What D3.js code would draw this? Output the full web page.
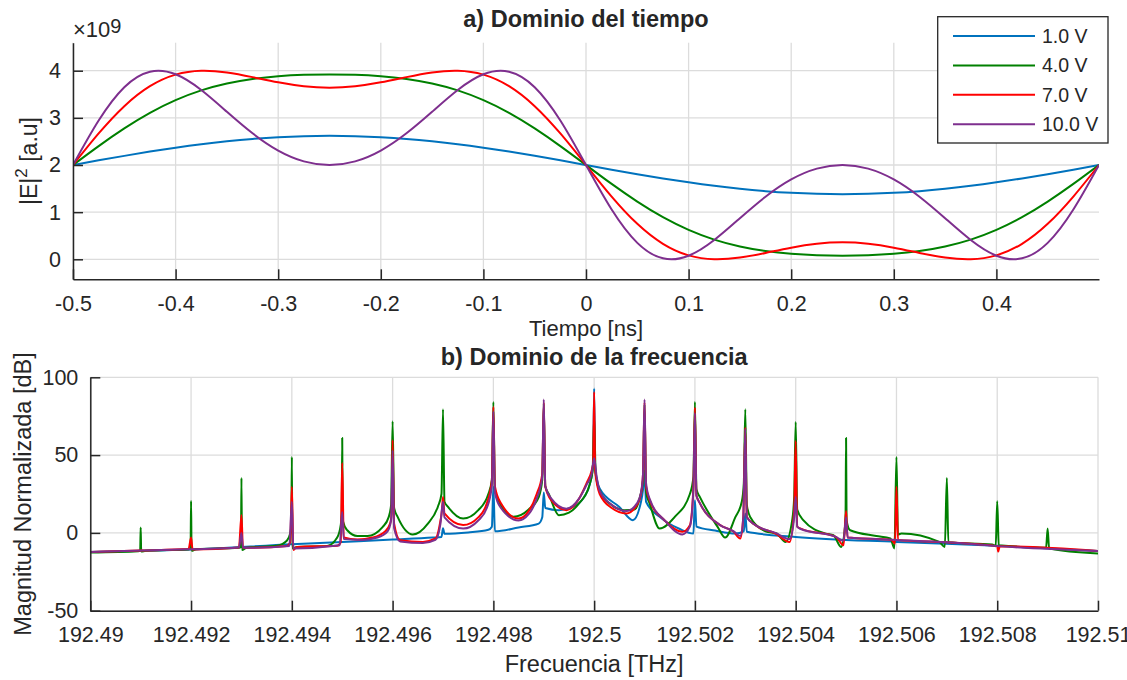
<!DOCTYPE html>
<html>
<head>
<meta charset="utf-8">
<script src="https://cdn.jsdelivr.net/npm/d3@7"></script>
<style>
body { margin: 0; background: #fff; }
text { font-family: "Liberation Sans", Arial, Helvetica, sans-serif; fill: #262626; }
</style>
</head>
<body>
<div id="chart-area"></div>
<script>
/*
*    dominio tiempo / frecuencia
*/

// ---- datos: a) dominio del tiempo (|E|^2 en unidades de 1e9) ----
var tiempoNs = [-0.5,-0.475,-0.45,-0.425,-0.4,-0.375,-0.35,-0.325,-0.3,-0.275,-0.25,-0.225,-0.2,-0.175,-0.15,-0.125,-0.1,-0.075,-0.05,-0.025,
    0,0.025,0.05,0.075,0.1,0.125,0.15,0.175,0.2,0.225,0.25,0.275,0.3,0.325,0.35,0.375,0.4,0.425,0.45,0.475,0.5];

var e1V = [2.000,2.099,2.194,2.285,2.368,2.442,2.504,2.554,2.590,2.612,2.620,2.612,2.590,2.554,2.504,2.442,2.368,2.285,2.194,2.099,
    2.000,1.901,1.806,1.715,1.632,1.558,1.496,1.446,1.410,1.388,1.380,1.388,1.410,1.446,1.496,1.558,1.632,1.715,1.806,1.901,2.000];
var e4V = [2.000,2.401,2.776,3.106,3.375,3.582,3.728,3.825,3.883,3.913,3.922,3.913,3.883,3.825,3.728,3.582,3.375,3.106,2.776,2.401,
    2.000,1.599,1.224,0.894,0.625,0.418,0.272,0.175,0.117,0.087,0.078,0.087,0.117,0.175,0.272,0.418,0.625,0.894,1.224,1.599,2.000];
var e7V = [2.000,2.669,3.248,3.672,3.917,3.999,3.963,3.864,3.753,3.670,3.640,3.670,3.753,3.864,3.963,3.999,3.917,3.672,3.248,2.669,
    2.000,1.331,0.752,0.328,0.083,0.001,0.037,0.136,0.247,0.330,0.360,0.330,0.247,0.136,0.037,0.001,0.083,0.328,0.752,1.331,2.000];
var e10V = [2.000,2.944,3.651,3.979,3.924,3.591,3.129,2.672,2.306,2.077,2.000,2.077,2.306,2.672,3.129,3.591,3.924,3.979,3.651,2.944,
    2.000,1.056,0.349,0.021,0.076,0.409,0.871,1.328,1.694,1.923,2.000,1.923,1.694,1.328,0.871,0.409,0.076,0.021,0.349,1.056,2.000];

var tiempoTicks = [-0.5,-0.4,-0.3,-0.2,-0.1,0,0.1,0.2,0.3,0.4];
var magTicks = [0,1,2,3,4];

// ---- datos: b) dominio de la frecuencia [desplazamiento GHz desde 192.5 THz, dB] ----
var espec1V = [[-10,-12.2],[-8,-10.7],[-6,-7.3],[-5,-5.8],[-4,-4.3],[-3.2,-3],[-3.03,-2.6],[-3,3],[-2.97,-0.6],[-2.5,0.3],[-2.1,2],
    [-2.03,4],[-2,29.6],[-1.97,1],[-1.5,3.5],[-1.1,6],[-1.03,10],[-1,26],[-0.97,16],[-0.7,14.6],[-0.4,17],[-0.2,23],[-0.08,32],
    [-0.02,45],[0,92.8],[0.02,42],[0.11,28.5],[0.5,16.7],[0.77,8.2],[0.93,20],[0.97,28],[1,40],[1.03,20],[1.3,10.3],[1.7,2.5],
    [1.97,-0.4],[2,21],[2.03,4],[2.4,1.5],[2.8,-0.4],[2.97,1],[3,12.5],[3.03,0.7],[4,-2.6],[6,-5.8],[8,-8.3],[10,-11.6]];

var espec4V = [[-10,-12.6],[-9.05,-11.8],[-9.01,-11],[-9,3.5],[-8.99,-12],[-8.9,-11.5],[-8.05,-10.6],[-8.01,-10],[-8,20.6],
    [-7.99,-11.5],[-7.9,-10.5],[-7.05,-9.6],[-7.01,-9],[-7,35.3],[-6.99,-11],[-6.9,-9.5],[-6.3,-8.2],[-6.1,-5],[-6.03,0],[-6.01,5],
    [-6,48.8],[-5.99,-10],[-5.9,-9],[-5.3,-8.4],[-5.1,-3],[-5.03,5],[-5.01,12.5],[-5,61],[-4.99,8],[-4.9,1.7],[-4.7,-2],[-4.5,-2],
    [-4.2,3.7],[-4.08,10],[-4.03,18],[-4,71.8],[-3.97,16],[-3.9,10.3],[-3.6,-1],[-3.3,6],[-3.1,17],[-3.03,25],[-3,79.5],[-2.97,20],
    [-2.9,16.7],[-2.6,9.2],[-2.3,14.6],[-2.1,25],[-2.03,34],[-2,84.2],[-1.97,28],[-1.9,21],[-1.6,10.3],[-1.3,15],[-1.1,23],
    [-1.03,34],[-1,83],[-0.97,30],[-0.9,25],[-0.7,11.4],[-0.5,13],[-0.3,19],[-0.1,30],[-0.03,40],[0,75],[0.03,38],[0.1,28],
    [0.3,19],[0.6,14.6],[0.8,15],[0.9,22],[0.97,34],[1,82.5],[1.03,26],[1.1,19],[1.3,2.8],[1.6,10.3],[1.9,25],[1.97,36],[2,84.2],
    [2.03,28],[2.1,23],[2.45,3.9],[2.6,-3],[2.8,10],[2.93,20],[2.97,31.7],[3,79.5],[3.03,18],[3.1,10],[3.4,1],[3.62,-0.4],
    [3.8,-5.8],[3.93,8],[3.97,23],[4,71.3],[4.03,15],[4.15,8.2],[4.6,-0.5],[4.75,-1.5],[4.9,-9],[4.97,1],[4.99,12.5],[5,61],
    [5.01,8],[5.08,1.7],[5.6,-2],[5.88,-3.6],[5.96,-10],[6,48.8],[6.03,-1],[6.1,-0.4],[6.85,-5.8],[6.96,-9],[7,35.3],[7.03,-6],
    [7.9,-7.5],[7.97,-8.5],[8,20.4],[8.03,-8],[8.97,-9.5],[9,2.8],[9.03,-10],[10,-13.2]];

var espec7V = [[-10,-12.2],[-9,-11.3],[-8.05,-10.4],[-8,-3],[-7.97,-10.6],[-7.05,-9.4],[-7,11.4],[-6.97,-9.6],[-6.1,-8.4],
    [-6.03,-6],[-6,29.6],[-5.97,-11],[-5.9,-9],[-5.1,-8.3],[-5.03,-6],[-5,45],[-4.97,-3],[-4.7,-4.3],[-4.4,-3],[-4.15,1],[-4.05,6],
    [-4.02,12.5],[-4,59.6],[-3.97,6],[-3.85,-4.7],[-3.4,-5.8],[-3.15,-3.6],[-3.05,8],[-3.02,14.6],[-3,23],[-2.97,12.5],[-2.6,5],
    [-2.3,10],[-2.13,19],[-2.03,34],[-2,81],[-1.97,30],[-1.85,19],[-1.5,9.2],[-1.3,14],[-1.14,25],[-1.03,38],[-1,84],[-0.97,30],
    [-0.85,21],[-0.55,14.6],[-0.3,22],[-0.15,32],[-0.05,40],[-0.02,44.6],[0,90.6],[0.02,40],[0.11,25],[0.35,16],[0.64,12.5],
    [0.85,18],[0.93,25],[0.97,38],[1,84],[1.03,30],[1.1,21],[1.4,8],[1.75,0.7],[1.9,5],[1.97,29.6],[2,80.6],[2.03,24],[2.1,19],
    [2.5,5],[2.77,0.7],[2.9,-3.6],[2.96,10.3],[3,67.7],[3.03,10.3],[3.2,5],[3.6,-0.4],[3.88,-5.8],[3.97,14.6],[4,59],[4.03,4],
    [4.1,2.8],[4.8,-2.6],[4.95,-8],[5,14],[5.03,-3],[5.9,-4.5],[5.97,-7],[6,29.6],[6.03,-4.5],[7,-6],[8,-8.5],[8.02,-12],
    [8.05,-8.6],[10,-11.6]];

var espec10V = [[-10,-12.2],[-9,-11.3],[-8,-10.5],[-7.05,-9.4],[-7,0],[-6.97,-9.6],[-6.05,-8.4],[-6,20],[-5.97,-10],[-5.05,-8],
    [-5,13.5],[-4.97,-4],[-4.6,-4.5],[-4.3,-3],[-4.1,1],[-4.03,8],[-4,53],[-3.97,3],[-3.85,-5.5],[-3.4,-6.5],[-3.15,-4.5],[-3.05,6],
    [-3,20],[-2.97,10],[-2.6,2.8],[-2.3,8],[-2.13,16],[-2.03,30],[-2,78],[-1.97,26],[-1.85,16],[-1.5,8],[-1.3,12],[-1.14,22],
    [-1.03,36],[-1,85.7],[-0.97,30],[-0.85,22],[-0.55,15.5],[-0.3,22],[-0.15,31],[-0.05,38],[0,48],[0.05,36],[0.11,27],[0.35,18],
    [0.64,14],[0.85,19],[0.93,26],[0.97,38],[1,85.7],[1.03,32],[1.1,22],[1.4,8],[1.75,-1],[1.9,4],[1.97,28],[2,77],[2.03,24],
    [2.1,19],[2.5,5],[2.77,1],[2.9,-2],[2.96,10],[3,67],[3.03,10],[3.2,5],[3.6,0],[3.88,-4],[3.97,10],[4,23],[4.03,4],[4.1,2.5],
    [4.8,-2.6],[4.95,-5],[5,10],[5.03,-3],[6,-4.5],[7,-6],[8,-8.5],[10,-11.6]];

var frecTicks = [192.49,192.492,192.494,192.496,192.498,192.5,192.502,192.504,192.506,192.508,192.51];
var frecLabels = ["192.49","192.492","192.494","192.496","192.498","192.5","192.502","192.504","192.506","192.508","192.51"];
var dbTicks = [-50,0,50,100];

var leyenda = ["1.0 V", "4.0 V", "7.0 V", "10.0 V"];
var colores = ["#0072BD", "#008000", "#FF0000", "#7E2F8E"];

// ---- lienzo ----
var width = 1127, height = 680;
var svg = d3.select("#chart-area").append("svg")
    .attr("width", width)
    .attr("height", height);
svg.append("rect").attr("width", width).attr("height", height).attr("fill", "#fff");

var axisColor = "#262626", gridColor = "#dcdcdc";
var tickFont = "21.5px", labelFont = "23px";

// Panel boxes (pixel)
var pA = {left: 73, right: 1099, top: 42.7, bottom: 279.3};
var pB = {left: 90.3, right: 1098, top: 377.3, bottom: 610.7};

// Scales
var xA = d3.scaleLinear().domain([-0.5, 0.5]).range([pA.left, pA.right]);
var yA = d3.scaleLinear().domain([-0.424, 4.594]).range([pA.bottom, pA.top]);
var xB = d3.scaleLinear().domain([192.49, 192.51]).range([pB.left, pB.right]);
var yB = d3.scaleLinear().domain([-50, 100]).range([pB.bottom, pB.top]);

function grid(p, xs, ys, xt, yt) {
    var g = svg.append("g");
    g.selectAll(".gv").data(xt).enter().append("line")
        .attr("x1", function(d){ return xs(d); }).attr("x2", function(d){ return xs(d); })
        .attr("y1", p.top).attr("y2", p.bottom)
        .attr("stroke", gridColor).attr("stroke-width", 1.3);
    g.selectAll(".gh").data(yt).enter().append("line")
        .attr("y1", function(d){ return ys(d); }).attr("y2", function(d){ return ys(d); })
        .attr("x1", p.left).attr("x2", p.right)
        .attr("stroke", gridColor).attr("stroke-width", 1.3);
}

function axes(p, xs, ys, xt, yt, xfmt, yfmt) {
    var xAxis = svg.append("g")
        .attr("transform", "translate(0," + p.bottom + ")")
        .call(d3.axisBottom(xs).tickValues(xt).tickFormat(xfmt)
            .tickSizeInner(-10).tickSizeOuter(0).tickPadding(16));
    var yAxis = svg.append("g")
        .attr("transform", "translate(" + p.left + ",0)")
        .call(d3.axisLeft(ys).tickValues(yt).tickFormat(yfmt)
            .tickSizeInner(-10).tickSizeOuter(0).tickPadding(12));
    [xAxis, yAxis].forEach(function(a){
        a.select(".domain").attr("stroke", axisColor).attr("stroke-width", 1.5);
        a.selectAll(".tick line").attr("stroke", axisColor).attr("stroke-width", 1.5);
        a.selectAll(".tick text").attr("fill", axisColor)
            .style("font-size", tickFont)
            .style("font-family", "'Liberation Sans', Arial, sans-serif");
    });
}

function clip(id, p) {
    svg.append("clipPath").attr("id", id).append("rect")
        .attr("x", p.left).attr("y", p.top)
        .attr("width", p.right - p.left).attr("height", p.bottom - p.top);
}

// ================= a) Dominio del tiempo =================
grid(pA, xA, yA, tiempoTicks, magTicks);
clip("clipA", pA);

var serieTiempo = [e1V, e4V, e7V, e10V];
var lineA = d3.line()
    .x(function(d, i){ return xA(tiempoNs[i]); })
    .y(function(d){ return yA(d); })
    .curve(d3.curveNatural);

svg.append("g").attr("clip-path", "url(#clipA)")
    .selectAll(".curva").data(serieTiempo).enter().append("path")
    .attr("fill", "none")
    .attr("stroke", function(d, i){ return colores[i]; })
    .attr("stroke-width", 2)
    .attr("d", lineA);

axes(pA, xA, yA, tiempoTicks, magTicks, function(d){ return String(d); }, function(d){ return String(d); });

svg.append("text")
    .attr("x", (pA.left + pA.right) / 2).attr("y", 26.5)
    .attr("text-anchor", "middle")
    .style("font-size", "23.5px").style("font-weight", "bold")
    .attr("fill", "#000")
    .text("a) Dominio del tiempo");

svg.append("text")
    .attr("x", xA(0)).attr("y", 336)
    .attr("text-anchor", "middle")
    .style("font-size", "22px")
    .text("Tiempo [ns]");

// exponent
var expo = svg.append("text").attr("x", 73).attr("y", 36.5).style("font-size", "22px");
expo.append("tspan").text("\u00d710");
expo.append("tspan").attr("dy", -4).style("font-size", "20px").text("9");

// y label with superscript
var yl = svg.append("text")
    .attr("transform", "translate(37," + ((pA.top + pA.bottom) / 2) + ") rotate(-90)")
    .attr("text-anchor", "middle")
    .style("font-size", labelFont);
yl.append("tspan").text("|E|");
yl.append("tspan").attr("dy", -10).style("font-size", "17px").text("2");
yl.append("tspan").attr("dy", 10).text(" [a.u]");

// legend
var legend = svg.append("g");
legend.append("rect")
    .attr("x", 937.7).attr("y", 16.7).attr("width", 170.3).attr("height", 126.3)
    .attr("fill", "#fff").attr("stroke", axisColor).attr("stroke-width", 1.3);

var legendRow = legend.selectAll(".legend-row").data(leyenda).enter().append("g")
    .attr("transform", function(d, i){ return "translate(0," + (36 + i * 29.4) + ")"; });
legendRow.append("line")
    .attr("x1", 953).attr("x2", 1035)
    .attr("stroke", function(d, i){ return colores[i]; })
    .attr("stroke-width", 2);
legendRow.append("text")
    .attr("x", 1042).attr("y", 7)
    .style("font-size", "19.5px")
    .text(function(d){ return d; });

// ================= b) Dominio de la frecuencia =================
grid(pB, xB, yB, frecTicks, dbTicks);
clip("clipB", pB);

var serieFrec = [espec1V, espec4V, espec7V, espec10V];
var lineB = d3.line()
    .x(function(d){ return xB(192.5 + d[0] / 1000); })
    .y(function(d){ return yB(d[1]); })
    .curve(d3.curveMonotoneX);

svg.append("g").attr("clip-path", "url(#clipB)")
    .selectAll(".espec").data(serieFrec).enter().append("path")
    .attr("fill", "none")
    .attr("stroke", function(d, i){ return colores[i]; })
    .attr("stroke-width", 2)
    .attr("stroke-linejoin", "round")
    .attr("d", lineB);

axes(pB, xB, yB, frecTicks, dbTicks,
    function(d, i){ return frecLabels[i]; }, function(d){ return String(d); });

svg.append("text")
    .attr("x", xB(192.5)).attr("y", 365)
    .attr("text-anchor", "middle")
    .style("font-size", "23.5px").style("font-weight", "bold")
    .attr("fill", "#000")
    .text("b) Dominio de la frecuencia");

svg.append("text")
    .attr("x", xB(192.5)).attr("y", 672)
    .attr("text-anchor", "middle")
    .style("font-size", "23.5px")
    .text("Frecuencia [THz]");

svg.append("text")
    .attr("transform", "translate(31," + ((pB.top + pB.bottom) / 2) + ") rotate(-90)")
    .attr("text-anchor", "middle")
    .style("font-size", "23.5px")
    .text("Magnitud Normalizada [dB]");
</script>
</body>
</html>
